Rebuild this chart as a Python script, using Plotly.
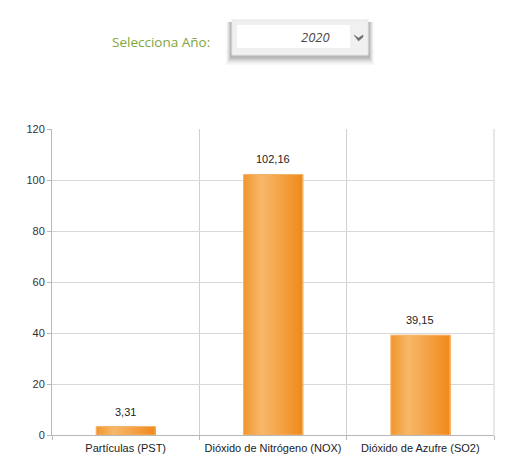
import plotly.graph_objects as go

categories = ["Partículas (PST)", "Dióxido de Nitrógeno (NOX)", "Dióxido de Azufre (SO2)"]
values = [3.31, 102.16, 39.15]
value_labels = ["3,31", "102,16", "39,15"]
y_ticks = [0, 20, 40, 60, 80, 100, 120]
selected_year = "2020"
selector_label = "Selecciona Año:"

OFF = 8  # page body margin
W, H = 519 - 2 * OFF, 462 - 2 * OFF
PL, PR, PT, PB = 52, 494, 129, 435  # plot area in window pixels
L, T = PL - OFF, PT - OFF
R, B = W - (PR - OFF), H - (PB - OFF)
PW, PH = PR - PL, PB - PT

def px(x):
    return (x - PL) / PW

def py(y):
    return (PB - y) / PH

fig = go.Figure()

bar_w = 0.4
n = 40
def lerp(c1, c2, t):
    return tuple(int(round(a + (b - a) * t)) for a, b in zip(c1, c2))
c_left = (242, 150, 45)
c_light = (247, 184, 106)
c_right = (240, 138, 28)
for i in range(n):
    t = (i + 0.5) / n
    if t < 0.3:
        c = lerp(c_left, c_light, t / 0.3)
    else:
        c = lerp(c_light, c_right, (t - 0.3) / 0.7)
    fig.add_trace(go.Bar(
        x=categories, y=values,
        width=bar_w / n * 1.6,
        offset=-bar_w / 2 + i * bar_w / n,
        marker=dict(color="rgb(%d,%d,%d)" % c, line=dict(width=0)),
        hoverinfo="skip", showlegend=False,
    ))
fig.add_trace(go.Bar(
    x=categories, y=values, width=bar_w, offset=-bar_w / 2,
    marker=dict(color="rgba(0,0,0,0)", line=dict(color="#F5B36A", width=1)),
    showlegend=False,
))
for cat, v, lab in zip(categories, values, value_labels):
    fig.add_annotation(x=cat, y=v, text=lab, showarrow=False, yanchor="bottom", yshift=7,
                       font=dict(family="Liberation Sans, Arial", size=11, color="#222"))

fig.update_layout(
    width=W, height=H,
    margin=dict(l=L, r=R, t=T, b=B, autoexpand=False),
    paper_bgcolor="white", plot_bgcolor="white",
    barmode="overlay",
    font=dict(family="Liberation Sans, Arial", size=11, color="#333"),
    xaxis=dict(
        type="category", tickson="boundaries", showgrid=True,
        gridcolor="#D0D0D0", gridwidth=1, showline=True, linecolor="#B8B8B8",
        ticks="outside", ticklen=4, tickcolor="#B8B8B8", ticklabelstandoff=3,
        tickfont=dict(size=11, color="#222"),
    ),
    yaxis=dict(
        range=[0, 120], tickvals=y_ticks, showgrid=True, gridcolor="#D8D8D8",
        showline=True, linecolor="#B8B8B8", ticks="outside", ticklen=4,
        tickcolor="#B8B8B8", tickfont=dict(size=11, color="#333"),
        zeroline=False,
    ),
)

shapes = []
shapes.append(dict(type="line", xref="paper", yref="paper", x0=1, x1=1, y0=0, y1=1,
                   line=dict(color="#D0D0D0", width=1)))
# dropdown shadow (mostly below)
for k, a in enumerate([0.03, 0.04, 0.06, 0.08, 0.10]):
    d = 5 - k
    shapes.append(dict(type="rect", xref="paper", yref="paper",
                       x0=px(231 - d), x1=px(369 + d), y0=py(57 + d * 1.6), y1=py(22),
                       fillcolor="rgba(0,0,0,%.2f)" % a, line=dict(width=0), layer="above"))
shapes.append(dict(type="rect", xref="paper", yref="paper",
                   x0=px(232), x1=px(368), y0=py(55), y1=py(20),
                   fillcolor="#F0F0F0", line=dict(color="#E6E6E6", width=1), layer="above"))
shapes.append(dict(type="rect", xref="paper", yref="paper",
                   x0=px(237), x1=px(350), y0=py(48), y1=py(25),
                   fillcolor="white", line=dict(width=0), layer="above"))
shapes.append(dict(type="path", xref="paper", yref="paper",
                   path="M %f,%f L %f,%f L %f,%f L %f,%f L %f,%f Z" % (
                       px(354), py(35), px(358.5), py(38), px(363), py(35),
                       px(363), py(37), px(358.5), py(41)),
                   fillcolor="#6E6E6E", line=dict(color="#6E6E6E", width=0.5), layer="above"))
fig.update_layout(shapes=shapes)

fig.add_annotation(xref="paper", yref="paper", x=px(110), y=py(42), xanchor="left", yanchor="middle",
                   text=selector_label, showarrow=False,
                   font=dict(family="Open Sans", size=13.5, color="#7FA53C"))
fig.add_annotation(xref="paper", yref="paper", x=px(332), y=py(37), xanchor="right", yanchor="middle",
                   text="<i>" + selected_year + "</i>", showarrow=False,
                   font=dict(family="Open Sans", size=13, color="#4A4A4A"))

fig.write_html("out.html")
